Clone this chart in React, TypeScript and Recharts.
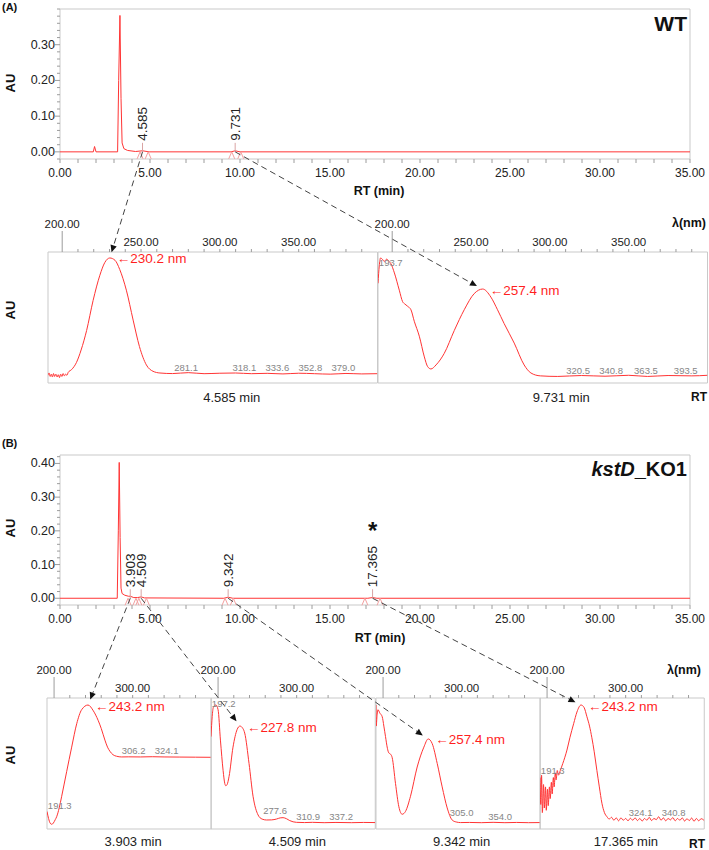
import React from "react";
import { LineChart, Line, XAxis, YAxis, ReferenceArea, ReferenceDot } from "recharts";

const FONT = "Arial, 'Liberation Sans', Helvetica, sans-serif";
const RED = "#ff3434";
const PINK = "#f3a0a0";
const FRAME = "#c9c9c9";
const TICK = "#9c9c9c";
const TEXT = "#222";
const GRAY_TXT = "#868686";

// ---------- chromatograms (RT in min, AU) ----------
const rtTicks = Array.from({ length: 36 }, (_, i) => i);
const rtLabels = [0, 5, 10, 15, 20, 25, 30, 35];

const wtTime = [0, 1.85, 1.92, 2.0, 3.2, 3.26, 3.33, 3.39, 3.45, 3.55, 3.75, 4.2, 4.585, 4.95, 9.5, 9.731, 10.0, 35];
const wtAU = [0, 0, 0.015, 0, 0, 0.2, 0.382, 0.15, 0.025, 0.009, 0.004, 0.001, 0.003, 0, 0, 0.003, 0, 0];
const wtPeaks = [
  { rt: 4.585, start: 4.45, end: 4.9 },
  { rt: 9.731, start: 9.54, end: 10.04 },
];

const koTime = [0, 3.18, 3.24, 3.29, 3.34, 3.39, 3.45, 3.6, 3.8, 3.903, 4.1, 4.3, 4.509, 4.7, 9.1, 9.342, 9.6, 17.1, 17.365, 17.6, 35];
const koAU = [0, 0, 0.2, 0.403, 0.18, 0.03, 0.014, 0.009, 0.006, 0.006, 0.002, 0.002, 0.004, 0.001, 0, 0.003, 0, 0, 0.002, 0, 0];
const koPeaks = [
  { rt: 3.903, start: 3.78, end: 4.22 },
  { rt: 4.509, start: 4.38, end: 4.8 },
  { rt: 9.342, start: 9.17, end: 9.63 },
  { rt: 17.365, start: 16.94, end: 17.78 },
];
const koStar = { rt: 17.365, au: 0.21 };

const wtMajor = [0, 0.1, 0.2, 0.3];
const koMajor = [0, 0.1, 0.2, 0.3, 0.4];

// ---------- UV spectra ([nm, relative absorbance]) ----------
const wtSpec4585: [number, number][] = [
  [191, -0.02], [191.7, 0.0], [192.4, -0.03], [193.1, -0.01], [193.8, -0.035], [194.5, -0.005], [195.2, -0.03],
  [196, -0.01], [196.8, -0.035], [197.5, -0.015], [198.3, -0.04], [199, -0.01], [199.8, -0.03], [200.6, -0.005],
  [201.4, -0.025], [202.2, -0.01], [203, -0.02], [203.8, 0.005], [206, 0.03], [209, 0.09], [212, 0.2], [215.5, 0.37],
  [219.6, 0.63], [223.9, 0.85], [227, 0.96], [230.2, 1.0], [233.5, 0.98], [236.5, 0.9], [240.7, 0.72], [245, 0.46],
  [249, 0.23], [253.4, 0.07], [257.6, 0.015], [262, 0.0], [270, -0.005], [280, 0.003], [290, -0.006], [300, -0.002],
  [310, 0.0], [320, -0.006], [330, -0.003], [340, -0.008], [350, -0.002], [360, -0.006], [370, -0.01], [380, -0.004],
  [390, -0.008], [400, -0.006],
];
const wtSpec9731: [number, number][] = [
  [191, 0.78], [191.8, 0.93], [192.6, 1.0], [193.7, 0.99], [195, 0.97], [196.5, 0.99], [198, 0.97], [199.2, 0.95],
  [201.4, 0.87], [204.5, 0.72], [206.6, 0.62], [208, 0.6], [209.8, 0.58], [211.9, 0.55], [214, 0.45], [217.2, 0.32],
  [220.4, 0.14], [222.5, 0.055], [224.6, 0.035], [227.8, 0.07], [233, 0.17], [239.4, 0.37], [245.7, 0.55], [252, 0.69],
  [257.4, 0.73], [262.6, 0.66], [266.8, 0.55], [271, 0.43], [277.4, 0.26], [283.7, 0.07], [288, 0.0], [294, -0.025],
  [305, -0.03], [320, -0.022], [335, -0.028], [350, -0.02], [362, -0.03], [375, -0.022], [390, -0.025], [400, -0.02],
];
const koSpec3903: [number, number][] = [
  [191, 0.09], [193, 0.03], [195, -0.01], [197, -0.02], [199, -0.01], [201.5, 0.02], [203.3, 0.045], [206.5, 0.12],
  [209.7, 0.22], [216, 0.43], [222.4, 0.64], [228.8, 0.84], [235.1, 0.96], [243.2, 1.0], [250, 0.95], [256, 0.87],
  [260, 0.8], [264.7, 0.7], [268, 0.64], [271, 0.605], [275, 0.575], [279.5, 0.562], [286, 0.556], [295, 0.557],
  [310, 0.556], [325, 0.558], [340, 0.556], [360, 0.555], [380, 0.554], [400, 0.553],
];
const koSpec4509: [number, number][] = [
  [191, 0.73], [192.5, 0.9], [194, 0.98], [197.2, 1.0], [200, 0.96], [203, 0.7], [206.4, 0.44], [208.5, 0.33],
  [209.8, 0.31], [211.5, 0.32], [214, 0.39], [219, 0.64], [224.2, 0.79], [227.8, 0.82], [231.5, 0.8], [233.9, 0.76],
  [239.4, 0.5], [244.5, 0.22], [250.9, 0.06], [256, 0.025], [261.5, 0.017], [268, 0.018], [274.3, 0.025], [279, 0.035],
  [282.7, 0.037], [287, 0.028], [291.2, 0.012], [299.7, -0.003], [310, -0.005], [320, -0.003], [335, -0.006],
  [350, -0.004], [370, -0.006], [385, -0.004], [400, -0.005],
];
const koSpec9342: [number, number][] = [
  [191, 1.0], [191.3, 0.82], [192.2, 0.9], [193.4, 0.96], [196, 0.93], [198.9, 0.9], [201, 0.82], [203.1, 0.73],
  [205.5, 0.63], [207.3, 0.59], [209.5, 0.58], [211.6, 0.55], [215.8, 0.33], [220.1, 0.13], [224.3, 0.066],
  [228.5, 0.09], [234.9, 0.22], [243.4, 0.47], [251.9, 0.64], [257.4, 0.71], [262.5, 0.67], [268.9, 0.5],
  [275.2, 0.3], [281.6, 0.12], [287.9, 0.017], [293, 0.0], [298.5, -0.005], [310, -0.004], [325, -0.006],
  [340, -0.003], [355, -0.006], [370, -0.004], [385, -0.006], [400, -0.005],
];
const koSpec17365: [number, number][] = [
  [191, 0.38], [192, 0.15], [193, 0.4], [194, 0.08], [195.5, 0.32], [196.5, 0.12], [198, 0.3], [199, 0.1],
  [200.5, 0.28], [201.5, 0.14], [203, 0.3], [204, 0.2], [205.5, 0.34], [206.5, 0.24], [208, 0.38], [209, 0.3],
  [210.5, 0.42], [211.5, 0.36], [213, 0.44], [214.5, 0.4], [216.8, 0.44], [220, 0.5],
  [225.3, 0.615], [229, 0.72], [233.8, 0.84], [238, 0.94], [243.2, 1.0], [247, 0.98], [250.7, 0.9], [254, 0.82],
  [257, 0.72], [260, 0.6], [263.4, 0.44], [266.5, 0.3], [269.8, 0.16], [273, 0.08], [276.2, 0.045], [279, 0.025],
  [282, 0.04], [285, 0.015], [288, 0.035], [291, 0.01], [294, 0.035], [297, 0.015], [300, 0.03], [303, 0.01],
  [306, 0.032], [309, 0.015], [312, 0.035], [315, 0.012], [318, 0.03], [321, 0.008], [324, 0.03], [327, 0.015],
  [330, 0.04], [333, 0.012], [336, 0.03], [339, 0.02], [342, 0.045], [345, 0.015], [348, 0.035], [351, 0.01],
  [354, 0.03], [357, 0.018], [360, 0.038], [363, 0.01], [366, 0.03], [369, 0.015], [372, 0.035], [375, 0.008],
  [378, 0.028], [381, 0.012], [384, 0.034], [387, 0.006], [390, 0.03], [393, 0.01], [396, 0.028], [400, 0.012],
];

// peak maxima and printed wavelength labels
const wtPeak4585 = { nm: 230.2, abs: 1.0 };
const wtPeak9731 = { nm: 257.4, abs: 0.73 };
const koPeak3903 = { nm: 243.2, abs: 1.0 };
const koPeak4509 = { nm: 227.8, abs: 0.82 };
const koPeak9342 = { nm: 257.4, abs: 0.71 };
const koPeak17365 = { nm: 243.2, abs: 1.0 };

const wtMarks4585 = [281.1, 318.1, 333.6, 352.8, 379.0].map((nm) => ({ nm, abs: 0.045 }));
const wtMarks9731 = [{ nm: 193.7, abs: 0.965 }, ...[320.5, 340.8, 363.5, 393.5].map((nm) => ({ nm, abs: 0.025 }))];
const koMarks3903 = [{ nm: 191.3, abs: 0.137 }, { nm: 306.2, abs: 0.615 }, { nm: 324.1, abs: 0.615 }];
const koMarks4509 = [{ nm: 197.2, abs: 1.01 }, { nm: 277.6, abs: 0.094 }, { nm: 310.9, abs: 0.043 }, { nm: 337.2, abs: 0.043 }];
const koMarks9342 = [{ nm: 305.0, abs: 0.077 }, { nm: 354.0, abs: 0.043 }];
const koMarks17365 = [{ nm: 191.3, abs: 0.44 }, { nm: 324.1, abs: 0.085 }, { nm: 340.8, abs: 0.085 }];

// ---------- layout ----------
const CH_W = 709;
const CH_H = 200;
const PLOT_L = 60;
const PLOT_R = 690;
const PLOT_T = 9;
const PLOT_H = 150;
const Y_MIN = -0.02;

type Panel = { top: number; yMax: number };
const PANEL_A: Panel = { top: 0, yMax: 0.4 };
const PANEL_B: Panel = { top: 446, yMax: 0.425 };

const NM_MIN = 191;
const NM_MAX = 400;
const AXIS_H = 40;
const PAD = 30;

type Box = { left: number; top: number; width: number; height: number; yDom: [number, number] };
const A_DOM: [number, number] = [-0.087, 1.052];
const B_DOM: [number, number] = [-0.06, 1.06];
const boxesA: Box[] = [48, 377.5].map((left) => ({ left, top: 252, width: 329.5, height: 131, yDom: A_DOM }));
const boxesB: Box[] = [47, 211.25, 375.5, 539.75].map((left) => ({ left, top: 698, width: 164.25, height: 131, yDom: B_DOM }));

const rtX = (rt: number) => PLOT_L + (rt / 35) * (PLOT_R - PLOT_L);
const auY = (p: Panel, v: number) => p.top + PLOT_T + ((p.yMax - v) / (p.yMax - Y_MIN)) * PLOT_H;
const nmX = (b: Box, nm: number) => b.left + ((nm - NM_MIN) / (NM_MAX - NM_MIN)) * b.width;
const absY = (b: Box, v: number) => b.top + ((b.yDom[1] - v) / (b.yDom[1] - b.yDom[0])) * b.height;

function Chromatogram({ panel, time, au, major, peaks, star }: {
  panel: Panel; time: number[]; au: number[]; major: number[];
  peaks: { rt: number; start: number; end: number }[]; star?: { rt: number; au: number };
}) {
  const data = time.map((rt, i) => ({ rt, au: au[i] }));
  const nTicks = Math.round((panel.yMax - Y_MIN) / 0.02) + 1;
  const auTicks = Array.from({ length: nTicks }, (_, i) => Math.round((Y_MIN + i * 0.02) * 100) / 100).filter((v) => v <= panel.yMax + 1e-9);
  const axisY = PLOT_T + PLOT_H;
  return (
    <div style={{ position: "absolute", left: 0, top: panel.top }}>
      <LineChart width={CH_W} height={CH_H} data={data} margin={{ top: PLOT_T, right: CH_W - PLOT_R, left: 0, bottom: 0 }}>
        <XAxis
          dataKey="rt" type="number" domain={[0, 35]} ticks={rtTicks} interval={0} height={CH_H - PLOT_T - PLOT_H}
          axisLine={false} tickLine={false} allowDataOverflow
          tick={(p: any) => (
            <g>
              <line x1={p.x} x2={p.x} y1={axisY} y2={axisY + 4} stroke={TICK} />
              {rtLabels.includes(p.payload.value) && (
                <text x={p.x} y={axisY + 18} textAnchor="middle" fontSize={12} fontFamily={FONT} fill={TEXT}>
                  {p.payload.value.toFixed(2)}
                </text>
              )}
            </g>
          )}
        />
        <YAxis
          type="number" domain={[Y_MIN, panel.yMax]} ticks={auTicks} interval={0} width={PLOT_L}
          axisLine={false} tickLine={false} allowDataOverflow
          tick={(p: any) => {
            const isMajor = major.some((m) => Math.abs(m - p.payload.value) < 1e-6);
            return (
              <g>
                <line x1={PLOT_L} x2={PLOT_L - (isMajor ? 5 : 3)} y1={p.y} y2={p.y} stroke={TICK} />
                {isMajor && (
                  <text x={PLOT_L - 5} y={p.y} textAnchor="end" dominantBaseline="central" fontSize={12.5} fontFamily={FONT} fill={TEXT}>
                    {p.payload.value.toFixed(2)}
                  </text>
                )}
              </g>
            );
          }}
        />
        <ReferenceArea x1={0} x2={35} y1={Y_MIN} y2={panel.yMax} fill="none" fillOpacity={0} stroke={FRAME} />
        {peaks.flatMap((pk) => [pk.start, pk.end]).map((t, i) => (
          <ReferenceDot key={"m" + i} x={t} y={0} r={0} shape={(s: any) => (
            <polyline points={`${s.cx - 3},${s.cy + 7} ${s.cx},${s.cy} ${s.cx + 3},${s.cy + 7}`} fill="none" stroke={PINK} strokeWidth={1} />
          )} />
        ))}
        <Line dataKey="au" type="linear" stroke={RED} strokeWidth={1} dot={false} isAnimationActive={false} />
        {peaks.map((pk) => (
          <ReferenceDot key={"p" + pk.rt} x={pk.rt} y={0} r={0} shape={(s: any) => (
            <g>
              <line x1={s.cx} x2={s.cx} y1={s.cy} y2={s.cy - 9} stroke="#d9a3a3" />
              <text x={s.cx} y={s.cy - 11} transform={`rotate(-90 ${s.cx} ${s.cy - 11})`} dominantBaseline="central"
                fontSize={13.5} fontFamily={FONT} fill={TEXT}>{pk.rt.toFixed(3)}</text>
            </g>
          )} />
        ))}
        {star && (
          <ReferenceDot x={star.rt} y={star.au} r={0} shape={(s: any) => (
            <text x={s.cx} y={s.cy + 12} textAnchor="middle" fontSize={24} fontWeight="bold" fontFamily={FONT} fill="#111">*</text>
          )} />
        )}
      </LineChart>
    </div>
  );
}

function Spectrum({ box, data, labels, step, peak, marks }: {
  box: Box; data: [number, number][]; labels: number[]; step: number;
  peak: { nm: number; abs: number }; marks: { nm: number; abs: number }[];
}) {
  const rows = data.map(([nm, abs]) => ({ nm, abs }));
  const nmTicks = Array.from({ length: Math.floor((390 - 200) / step) + 1 }, (_, i) => 200 + i * step);
  const pxPerNm = box.width / (NM_MAX - NM_MIN);
  const HALF = 11.75;
  let prev = -Infinity;
  const placed = marks.map((m) => {
    const raw = (m.nm - NM_MIN) * pxPerNm;
    let c = Math.max(raw - 4, 1 + HALF, prev + 33);
    c = Math.min(c, box.width - 10 - HALF);
    prev = c;
    return { ...m, dx: c - raw };
  });
  return (
    <div style={{ position: "absolute", left: box.left - PAD, top: box.top - AXIS_H }}>
      <LineChart width={box.width + 2 * PAD} height={AXIS_H + box.height + 12} data={rows}
        margin={{ top: 0, right: PAD, left: PAD, bottom: 12 }}>
        <XAxis
          dataKey="nm" type="number" orientation="top" domain={[NM_MIN, NM_MAX]} ticks={nmTicks} interval={0}
          height={AXIS_H} axisLine={false} tickLine={false} allowDataOverflow
          tick={(p: any) => {
            const v = p.payload.value;
            const raised = v === 200;
            return (
              <g>
                <line x1={p.x} x2={p.x} y1={AXIS_H} y2={AXIS_H - (raised ? 21 : 3)} stroke={TICK} />
                {labels.includes(v) && (
                  <text x={p.x} y={AXIS_H - (raised ? 28 : 10)} textAnchor="middle" dominantBaseline="central"
                    fontSize={11.5} fontFamily={FONT} fill={TEXT}>{v.toFixed(2)}</text>
                )}
              </g>
            );
          }}
        />
        <YAxis type="number" domain={box.yDom} hide allowDataOverflow />
        <ReferenceArea x1={NM_MIN} x2={NM_MAX} y1={box.yDom[0]} y2={box.yDom[1]} fill="none" fillOpacity={0} stroke={FRAME} />
        {placed.map((m, i) => (
          <ReferenceDot key={"g" + i} x={m.nm} y={m.abs} r={0} shape={(s: any) => (
            <text x={s.cx + m.dx} y={s.cy} textAnchor="middle" dominantBaseline="central" fontSize={9.5}
              fontFamily={FONT} fill={GRAY_TXT}>{m.nm.toFixed(1)}</text>
          )} />
        ))}
        <Line dataKey="abs" type="monotone" stroke={RED} strokeWidth={1} dot={false} isAnimationActive={false} />
        <ReferenceDot x={peak.nm} y={peak.abs} r={0} shape={(s: any) => (
          <text x={s.cx + 7} y={s.cy + 1} dominantBaseline="central" fontSize={13.5} fontFamily={FONT} fill="#ff1f1f">
            {"\u2190" + peak.nm.toFixed(1) + " nm"}
          </text>
        )} />
      </LineChart>
    </div>
  );
}

function Arrow({ x1, y1, x2, y2 }: { x1: number; y1: number; x2: number; y2: number }) {
  const dx = x2 - x1;
  const dy = y2 - y1;
  const len = Math.hypot(dx, dy);
  const ux = dx / len;
  const uy = dy / len;
  const tx = x2 - ux * 6;
  const ty = y2 - uy * 6;
  const bx = tx - ux * 7;
  const by = ty - uy * 7;
  const px = -uy * 3.2;
  const py = ux * 3.2;
  return (
    <g>
      <line x1={x1} y1={y1} x2={bx} y2={by} stroke="#444" strokeWidth={1} strokeDasharray="6 4" />
      <polygon points={`${tx},${ty} ${bx + px},${by + py} ${bx - px},${by - py}`} fill="#111" />
    </g>
  );
}

const wtSets = [
  { rt: 4.585, data: wtSpec4585, peak: wtPeak4585, marks: wtMarks4585 },
  { rt: 9.731, data: wtSpec9731, peak: wtPeak9731, marks: wtMarks9731 },
];
const koSets = [
  { rt: 3.903, data: koSpec3903, peak: koPeak3903, marks: koMarks3903 },
  { rt: 4.509, data: koSpec4509, peak: koPeak4509, marks: koMarks4509 },
  { rt: 9.342, data: koSpec9342, peak: koPeak9342, marks: koMarks9342 },
  { rt: 17.365, data: koSpec17365, peak: koPeak17365, marks: koMarks17365 },
];

export default function App() {
  const bold = { fontFamily: FONT, fontWeight: "bold" as const, fill: "#111" };
  return (
    <div style={{ position: "absolute", left: 0, top: 0, width: 709, height: 850, overflow: "hidden", background: "#fff", fontFamily: FONT }}>
      <Chromatogram panel={PANEL_A} time={wtTime} au={wtAU} major={wtMajor} peaks={wtPeaks} />
      {wtSets.map((s, i) => (
        <Spectrum key={s.rt} box={boxesA[i]} data={s.data} labels={[200, 250, 300, 350]} step={10} peak={s.peak} marks={s.marks} />
      ))}
      <Chromatogram panel={PANEL_B} time={koTime} au={koAU} major={koMajor} peaks={koPeaks} star={koStar} />
      {koSets.map((s, i) => (
        <Spectrum key={s.rt} box={boxesB[i]} data={s.data} labels={[200, 300]} step={20} peak={s.peak} marks={s.marks} />
      ))}
      <svg width={709} height={850} style={{ position: "absolute", left: 0, top: 0, pointerEvents: "none" }}>
        <text x={2} y={11} fontSize={11} {...bold}>(A)</text>
        <text x={2} y={447} fontSize={11} {...bold}>(B)</text>
        <text x={687} y={31} textAnchor="end" fontSize={21} {...bold}>WT</text>
        <text x={687} y={476} textAnchor="end" fontSize={20} {...bold}>
          <tspan fontStyle="italic">kstD</tspan>_KO1
        </text>
        {[83, 310, 528, 755].map((y) => (
          <text key={y} x={10} y={y} transform={`rotate(-90 10 ${y})`} textAnchor="middle" dominantBaseline="central" fontSize={13} {...bold}>AU</text>
        ))}
        <text x={379} y={195} textAnchor="middle" fontSize={12.5} {...bold}>RT (min)</text>
        <text x={380} y={642} textAnchor="middle" fontSize={12.5} {...bold}>RT (min)</text>
        <text x={689} y={223} textAnchor="middle" dominantBaseline="central" fontSize={12.5} {...bold}>λ(nm)</text>
        <text x={684} y={670} textAnchor="middle" dominantBaseline="central" fontSize={12.5} {...bold}>λ(nm)</text>
        <text x={699} y={397} textAnchor="middle" dominantBaseline="central" fontSize={12} {...bold}>RT</text>
        <text x={697} y={844} textAnchor="middle" dominantBaseline="central" fontSize={12} {...bold}>RT</text>
        {wtSets.map((s, i) => (
          <text key={"ta" + i} x={boxesA[i].left + boxesA[i].width / 2 + 19} y={397} textAnchor="middle" dominantBaseline="central"
            fontSize={13} fontFamily={FONT} fill={TEXT}>{s.rt.toFixed(3)} min</text>
        ))}
        {koSets.map((s, i) => (
          <text key={"tb" + i} x={boxesB[i].left + boxesB[i].width / 2 + 4} y={841} textAnchor="middle" dominantBaseline="central"
            fontSize={13} fontFamily={FONT} fill={TEXT}>{s.rt.toFixed(3)} min</text>
        ))}
        {wtSets.map((s, i) => (
          <Arrow key={"aa" + i} x1={rtX(s.rt)} y1={auY(PANEL_A, 0)} x2={nmX(boxesA[i], s.peak.nm)} y2={absY(boxesA[i], s.peak.abs)} />
        ))}
        {koSets.map((s, i) => (
          <Arrow key={"ab" + i} x1={rtX(s.rt)} y1={auY(PANEL_B, 0)} x2={nmX(boxesB[i], s.peak.nm)} y2={absY(boxesB[i], s.peak.abs)} />
        ))}
      </svg>
    </div>
  );
}
